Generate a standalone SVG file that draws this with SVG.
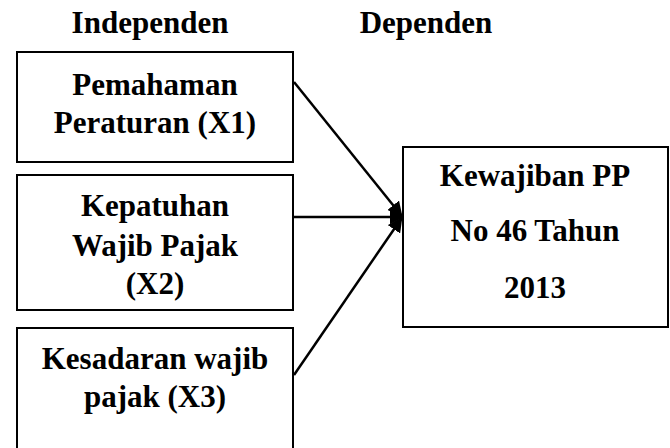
<svg xmlns="http://www.w3.org/2000/svg" width="670" height="448" viewBox="0 0 670 448">
<style>
.box{fill:#fff;stroke:#000;stroke-width:2}
.t{font-family:"Liberation Serif","Times New Roman",serif;font-weight:bold;font-size:31px;fill:#000;text-anchor:middle}
.c{stroke:#000;stroke-width:2.5;fill:none}
</style>
<defs>
<marker id="ah" markerWidth="6" markerHeight="6" refX="5" refY="3" orient="auto" markerUnits="strokeWidth">
<path d="M0,0 L6,3 L0,6 z" fill="#000"/>
</marker>
</defs>
<rect width="670" height="448" fill="#fff"/>
<text class="t" x="150" y="33">Independen</text>
<text class="t" x="426" y="33">Dependen</text>
<g id="connectors">
<line class="c" x1="294" y1="82" x2="401" y2="215" marker-end="url(#ah)"/>
<line class="c" x1="294" y1="217" x2="402" y2="217" marker-end="url(#ah)"/>
<line class="c" x1="294" y1="375" x2="401" y2="219" marker-end="url(#ah)"/>
</g>
<g id="x1">
<rect class="box" x="17" y="52" width="276" height="110"/>
<text class="t" x="155" y="95">Pemahaman</text>
<text class="t" x="155" y="133">Peraturan (X1)</text>
</g>
<g id="x2">
<rect class="box" x="17" y="175" width="276" height="135"/>
<text class="t" x="155" y="216">Kepatuhan</text>
<text class="t" x="155" y="256">Wajib Pajak</text>
<text class="t" x="155" y="294">(X2)</text>
</g>
<g id="x3">
<rect class="box" x="17" y="328" width="276" height="130"/>
<text class="t" x="155" y="369">Kesadaran wajib</text>
<text class="t" x="155" y="407">pajak (X3)</text>
</g>
<g id="y">
<rect class="box" x="403" y="147" width="265" height="180"/>
<text class="t" x="535" y="186">Kewajiban PP</text>
<text class="t" x="535" y="241">No 46 Tahun</text>
<text class="t" x="535" y="298">2013</text>
</g>
</svg>
